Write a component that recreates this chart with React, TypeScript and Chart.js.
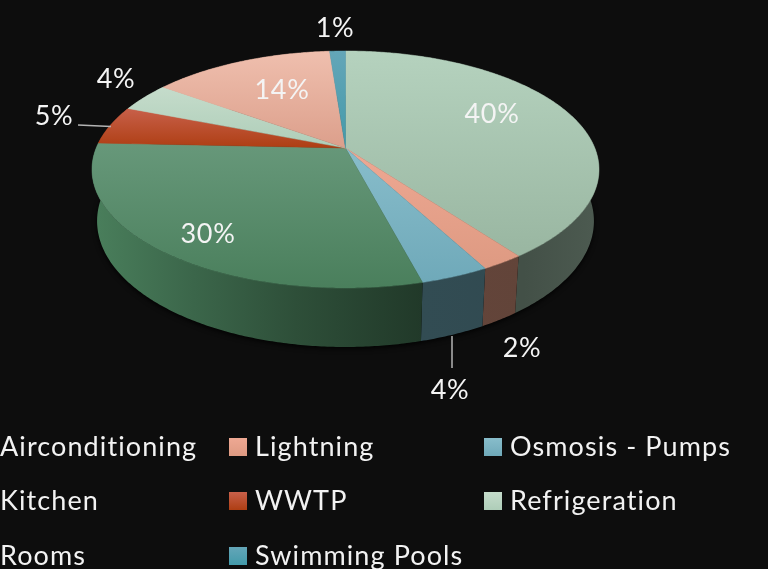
import React, { useEffect, useRef } from "react";
import { Chart, registerables } from "chart.js";

Chart.register(...registerables);

const categories = ["Airconditioning", "Lightning", "Osmosis - Pumps", "Kitchen", "WWTP", "Refrigeration", "Rooms", "Swimming Pools"];
const shares = [39.9, 2.3, 3.7, 29.8, 5.3, 4.0, 13.8, 1.2];

const topColors = ["#b5d2be", "#eea893", "#88bdcb", "#67987a", "#c8604a", "#c5dccb", "#efbfae", "#64a6b8"];
const bottomColors = ["#99b6a1", "#de9a82", "#6fa9b9", "#4a7f5c", "#ae3e13", "#aecdb8", "#dc9f8b", "#439aaa"];

// Placement of the labels and legend
const labelAnchors = [[492, 114], [522, 348], [450, 390], [208, 234], [54, 116], [116, 79], [282, 90], [335, 28]];
const leaderLines = [[452, 336, 452, 368], [78, 125, 111, 126.5]];
const legendColumns = [[-26, 0], [229, 255], [484, 510]];
const legendRows = [447, 501, 556];

const BG = "#0d0d0d";
const FONT = "27px Lato";
const APEX_X = 345.5, APEX_Y = 148;
const RADIUS = 249.3, TILT = 114.6, PERSP = 0.1814;
const DEPTH_OFFSET = 50.25, DEPTH_YSCALE = 1.0625, DEPTH_XSCALE = 0.98;
const WALL_SHADE: [number, number][] = [[0, 1.0], [0.2, 0.8], [0.4, 0.62], [0.65, 0.45], [0.85, 0.44], [1, 0.5]];

function project(angle: number): [number, number] {
  const u = Math.cos(angle), v = Math.sin(angle);
  const w = 1 - PERSP * v;
  return [(RADIUS * u) / w, (TILT * v) / w];
}
const topPoint = (a: number): [number, number] => {
  const [X, Y] = project(a);
  return [APEX_X + X, APEX_Y + Y];
};
const bottomPoint = (a: number): [number, number] => {
  const [X, Y] = project(a);
  return [APEX_X + DEPTH_XSCALE * X, APEX_Y + DEPTH_OFFSET + DEPTH_YSCALE * Y];
};

function shade(hex: string, k: number) {
  const n = parseInt(hex.slice(1), 16);
  const c = [(n >> 16) & 255, (n >> 8) & 255, n & 255].map((x) => Math.round(x * k));
  return `rgb(${c[0]},${c[1]},${c[2]})`;
}

function arcAngles(start: number, end: number) {
  const steps = Math.max(4, Math.ceil((end - start) / 0.01));
  const out: number[] = [];
  for (let i = 0; i <= steps; i++) out.push(start + ((end - start) * i) / steps);
  return out;
}

const pie3d = {
  id: "pie3d",
  beforeDatasetsDraw(chart: any) {
    const ctx: CanvasRenderingContext2D = chart.ctx;
    const arcs = chart.getDatasetMeta(0).data;

    // Side wall
    ctx.save();
    ctx.shadowColor = "rgba(0,0,0,0.8)";
    ctx.shadowBlur = 5;
    ctx.shadowOffsetY = 2;
    ctx.beginPath();
    arcAngles(0, Math.PI * 2).forEach((a, i) => {
      const p = bottomPoint(a);
      i ? ctx.lineTo(p[0], p[1]) : ctx.moveTo(p[0], p[1]);
    });
    ctx.closePath();
    ctx.fillStyle = "#000";
    ctx.fill();
    ctx.restore();

    arcs.forEach((arc: any, i: number) => {
      const angles = arcAngles(arc.startAngle, arc.endAngle);
      ctx.beginPath();
      angles.forEach((a, j) => {
        const p = topPoint(a);
        j ? ctx.lineTo(p[0], p[1]) : ctx.moveTo(p[0], p[1]);
      });
      angles.slice().reverse().forEach((a) => {
        const p = bottomPoint(a);
        ctx.lineTo(p[0], p[1]);
      });
      ctx.closePath();
      const g = ctx.createLinearGradient(92, 0, 600, 0);
      WALL_SHADE.forEach(([pos, k]) => g.addColorStop(pos, shade(bottomColors[i], k)));
      ctx.fillStyle = g;
      ctx.fill();
    });

    // Top face
    arcs.forEach((arc: any, i: number) => {
      const angles = arcAngles(arc.startAngle, arc.endAngle);
      const pts = angles.map(topPoint);
      const ys = pts.map((p) => p[1]).concat(APEX_Y);
      const g = ctx.createLinearGradient(0, Math.min(...ys), 0, Math.max(...ys));
      g.addColorStop(0, topColors[i]);
      g.addColorStop(1, bottomColors[i]);
      ctx.beginPath();
      ctx.moveTo(APEX_X, APEX_Y);
      pts.forEach((p) => ctx.lineTo(p[0], p[1]));
      ctx.closePath();
      ctx.fillStyle = g;
      ctx.strokeStyle = g;
      ctx.lineWidth = 0.5;
      ctx.fill();
      ctx.stroke();
    });
    return false;
  },
  afterDraw(chart: any) {
    const ctx: CanvasRenderingContext2D = chart.ctx;
    ctx.save();
    ctx.strokeStyle = "#b4b4b4";
    ctx.lineWidth = 1.5;
    leaderLines.forEach(([x1, y1, x2, y2]) => {
      ctx.beginPath();
      ctx.moveTo(x1, y1);
      ctx.lineTo(x2, y2);
      ctx.stroke();
    });

    ctx.font = FONT;
    ctx.textBaseline = "middle";
    ctx.textAlign = "center";
    ctx.fillStyle = "#f4f4f4";
    (ctx as any).letterSpacing = "0.7px";
    shares.forEach((s, i) => {
      ctx.fillText(`${Math.round(s)}%`, labelAnchors[i][0], labelAnchors[i][1]);
    });

    ctx.textAlign = "left";
    (ctx as any).letterSpacing = "1.1px";
    categories.forEach((name, i) => {
      const col = legendColumns[i % 3];
      const y = legendRows[Math.floor(i / 3)];
      const g = ctx.createLinearGradient(0, y - 9, 0, y + 9);
      g.addColorStop(0, topColors[i]);
      g.addColorStop(1, bottomColors[i]);
      ctx.fillStyle = g;
      ctx.fillRect(col[0], y - 9, 18, 18);
      ctx.fillStyle = "#f2f2f2";
      ctx.fillText(name, col[1], y);
    });
    ctx.restore();
  },
};

export default function App() {
  const ref = useRef<HTMLCanvasElement>(null);
  useEffect(() => {
    if (!ref.current) return;
    const chart = new Chart(ref.current, {
      type: "pie",
      data: {
        labels: categories,
        datasets: [{ data: shares, backgroundColor: bottomColors, borderWidth: 0 }],
      },
      options: {
        animation: false,
        responsive: false,
        plugins: { legend: { display: false }, tooltip: { enabled: false } },
      },
      plugins: [pie3d],
    } as any);
    return () => chart.destroy();
  }, []);
  return (
    <div style={{ position: "fixed", left: 0, top: 0, width: 768, height: 569, background: BG, overflow: "hidden" }}>
      <canvas ref={ref} width={768} height={569} style={{ display: "block" }} />
    </div>
  );
}
